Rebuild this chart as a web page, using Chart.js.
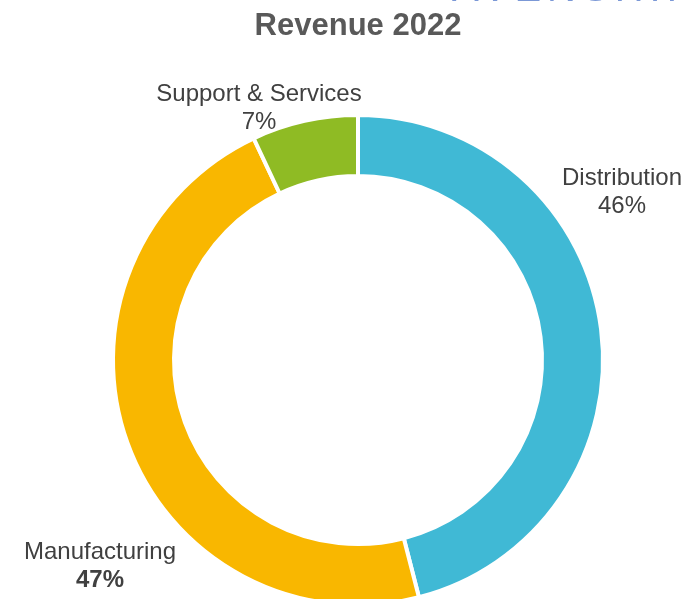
<!DOCTYPE html>
<html>
<head>
<meta charset="utf-8">
<script src="https://cdn.jsdelivr.net/npm/chart.js@4/dist/chart.umd.min.js"></script>
<style>
    html, body { margin: 0; padding: 0; background: #fff; overflow: hidden; }
    #wrap { position: relative; width: 684px; height: 620px; }
    #mark {
        position: absolute; left: 452px; top: -35px;
        font: 40px "Liberation Sans", Arial, sans-serif; color: #7b98d6;
        letter-spacing: 6px; white-space: nowrap; z-index: 2;
    }
</style>
</head>
<body>
<div id="wrap">
    <canvas id="chart" width="684" height="620"></canvas>
    <div id="mark">AVENSHIP</div>
</div>
<script>
    const title = "Revenue 2022";
    const categories = ["Distribution", "Manufacturing", "Support & Services"];
    const shares = [46, 47, 7];
    const colors = ["#40b9d5", "#f9b700", "#8fbb24"];
    const boldValue = [false, true, false];
    // label anchor offsets from the doughnut centre
    const labelOffsets = [[264, -168], [-258, 206], [-99, -252]];

    const labelPlugin = {
        id: "labels",
        afterDraw(chart) {
            const ctx = chart.ctx;
            const arc = chart.getDatasetMeta(0).data[0];
            const cx = arc.x, cy = arc.y;
            ctx.save();
            ctx.textAlign = "center";
            ctx.textBaseline = "middle";
            ctx.fillStyle = "#595959";
            ctx.font = "bold 31px 'Liberation Sans', Arial, sans-serif";
            ctx.fillText(title, cx, 26);
            ctx.fillStyle = "#404040";
            categories.forEach((name, i) => {
                const x = cx + labelOffsets[i][0];
                const y = cy + labelOffsets[i][1];
                ctx.font = "24px 'Liberation Sans', Arial, sans-serif";
                ctx.fillText(name, x, y - 14);
                ctx.font = (boldValue[i] ? "bold " : "") + "24px 'Liberation Sans', Arial, sans-serif";
                ctx.fillText(shares[i] + "%", x, y + 14);
            });
            ctx.restore();
        },
    };

    new Chart(document.getElementById("chart"), {
        type: "doughnut",
        data: {
            labels: categories,
            datasets: [{
                data: shares,
                backgroundColor: colors,
                borderColor: "#ffffff",
                borderWidth: 4,
                hoverOffset: 0,
            }],
        },
        options: {
            responsive: false,
            animation: false,
            events: [],
            cutout: "75.1%",
            layout: { padding: { top: 113, bottom: 13, left: 111, right: 79 } },
            plugins: {
                legend: { display: false },
                tooltip: { enabled: false },
            },
        },
        plugins: [labelPlugin],
    });
</script>
</body>
</html>
